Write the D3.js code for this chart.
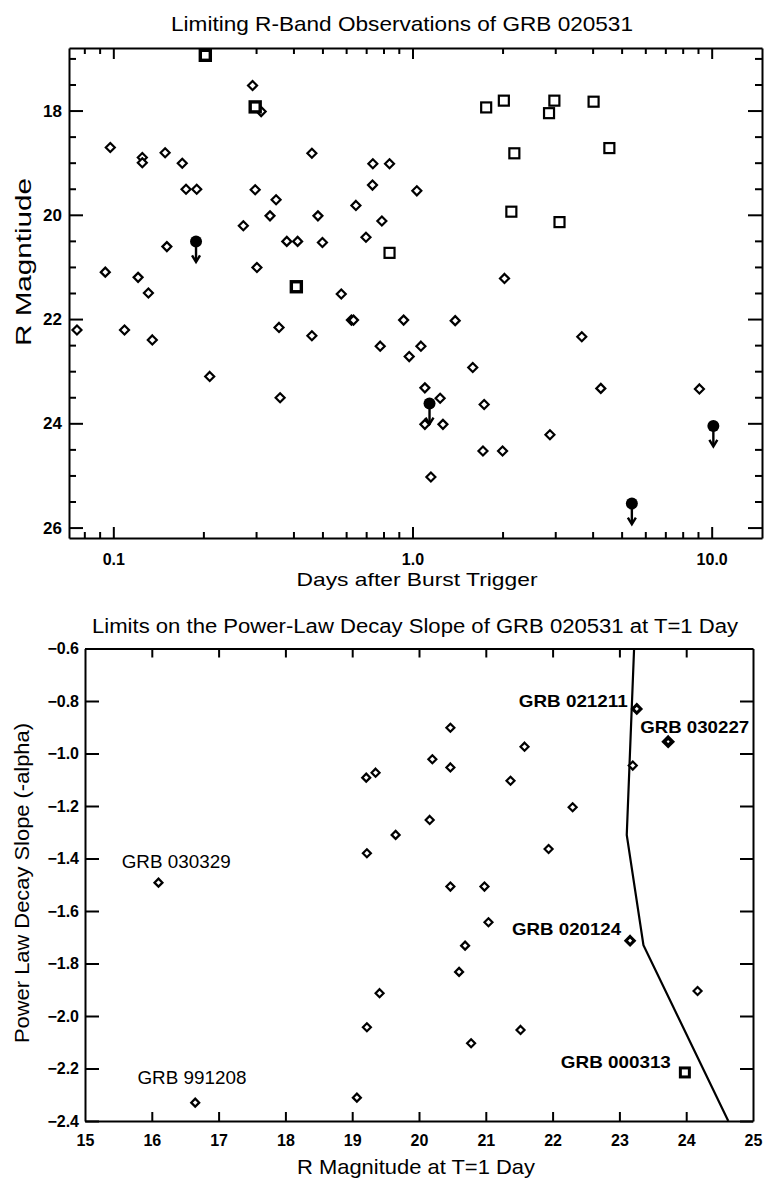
<!DOCTYPE html>
<html><head><meta charset="utf-8">
<script src="https://cdn.jsdelivr.net/npm/d3@7"></script>
<style>
body{margin:0;background:#fff}
svg{display:block}
text{font-family:"Liberation Sans",Arial,Helvetica,sans-serif;fill:#000}
</style>
</head><body>
<svg id="c" width="764" height="1179"></svg>
<script>
// ---------------- DATA ----------------
// Top panel: [days after trigger, R magnitude]
const obsDiamonds = [
  [0.0756,22.21],[0.0977,18.71],[0.094,21.1],[0.109,22.21],[0.121,21.2],[0.125,18.9],[0.125,19.0],
  [0.131,21.5],[0.135,22.4],[0.149,18.81],[0.151,20.61],[0.170,19.01],[0.175,19.51],[0.190,19.51],
  [0.210,23.1],[0.272,20.21],[0.292,17.52],[0.298,19.52],[0.302,21.01],[0.312,18.02],[0.334,20.02],
  [0.350,19.71],[0.358,22.16],[0.361,23.51],[0.380,20.51],[0.413,20.51],[0.461,18.82],[0.461,22.32],
  [0.483,20.02],[0.500,20.53],[0.578,21.52],[0.625,22.02],[0.635,22.02],[0.647,19.82],[0.699,20.43],
  [0.737,19.02],[0.735,19.43],[0.780,22.52],[0.790,20.12],[0.838,19.02],[0.934,22.02],[0.975,22.72],
  [1.034,19.54],[1.067,22.52],[1.10,23.32],[1.10,24.02],[1.152,25.03],[1.237,23.52],[1.264,24.02],
  [1.389,22.03],[1.59,22.93],[1.72,24.53],[1.736,23.64],[2.00,24.53],[2.03,21.22],[2.88,24.22],
  [3.68,22.34],[4.26,23.33],[9.10,23.34]
];
const obsSquares = [
  [1.763,17.94],[2.02,17.81],[2.98,17.81],[2.86,18.05],[4.03,17.83],[2.19,18.82],[4.55,18.72],
  [2.14,19.94],[3.10,20.14],[0.838,20.73]
];
const obsBoldSquares = [[0.203,16.94],[0.298,17.93],[0.409,21.38]];
const obsLimits = [[0.189,20.51],[1.14,23.62],[5.41,25.54],[10.13,24.05]];

const topXTicks = [0.1, 1, 10];
const topXTickLabels = ["0.1", "1.0", "10.0"];
const topYTicks = [18, 20, 22, 24, 26];

// Bottom panel: [R magnitude at T=1 day, power-law slope]
const grbDiamonds = [
  [16.10,-1.492],[16.65,-2.330],
  [19.21,-1.092],[19.35,-1.073],[19.22,-1.380],[19.65,-1.310],[20.47,-0.902],[21.58,-0.974],
  [20.20,-1.022],[20.47,-1.053],[21.37,-1.104],[22.30,-1.205],[20.16,-1.253],[21.94,-1.364],
  [20.47,-1.507],[20.98,-1.507],[21.04,-1.643],[20.69,-1.732],[20.60,-1.832],[19.41,-1.913],
  [19.22,-2.043],[19.07,-2.311],[24.17,-1.905],[21.52,-2.053],[20.78,-2.104],[23.20,-1.046]
];
const grbBoldNames = ["GRB 021211", "GRB 030227", "GRB 020124"];
const grbBoldMag = [23.26, 23.73, 23.16];
const grbBoldSlope = [-0.830, -0.955, -1.713];
const grbSquareName = ["GRB 000313"];
const grbSquareMag = [23.98];
const grbSquareSlope = [-2.215];
const grbPlainNames = ["GRB 030329", "GRB 991208"];
const grbPlainMag = [16.10, 16.65];
const grbPlainSlope = [-1.492, -2.330];
const limitLineMag = [23.22, 23.11, 23.36, 24.63];
const limitLineSlope = [-0.6, -1.31, -1.73, -2.4];

const botXTicks = [15,16,17,18,19,20,21,22,23,24,25];
const botYTicks = [-0.6,-0.8,-1.0,-1.2,-1.4,-1.6,-1.8,-2.0,-2.2,-2.4];

// ---------------- DRAWING ----------------
const svg = d3.select("#c");
const FONT = '"Liberation Sans",Arial,Helvetica,sans-serif';

function styleAxis(g, size, weight) {
  g.attr("font-family", FONT).attr("font-size", size).attr("font-weight", weight);
  g.selectAll("path.domain").attr("stroke", "#000").attr("stroke-width", 2);
  g.selectAll(".tick line").attr("stroke", "#000").attr("stroke-width", 2);
  g.selectAll("text").attr("fill", "#000");
}

// ===== Top panel =====
const tx = d3.scaleLog().domain([0.0711, 14.73]).range([69, 762]);
const ty = d3.scaleLinear().domain([16.8, 26.2]).range([48, 538]);

const topMinorX = [];
[0.01, 0.1, 1, 10].forEach(d => { for (let k = 2; k <= 9; k++) { const v = d * k; if (v > 0.0711 && v < 14.73 && topXTicks.indexOf(v) < 0) topMinorX.push(v); } });
const topMinorY = d3.range(17, 26.01, 0.5).filter(v => topYTicks.indexOf(v) < 0);

const T = svg.append("g");
const tb = T.append("g").attr("transform", "translate(0,538)")
  .call(d3.axisBottom(tx).tickValues(topXTicks).tickFormat((d, i) => topXTickLabels[i]).tickSize(-11).tickSizeOuter(0).tickPadding(16));
styleAxis(tb, 16, "bold");
T.append("g").attr("transform", "translate(0,538)")
  .call(d3.axisBottom(tx).tickValues(topMinorX).tickFormat("").tickSize(-6).tickSizeOuter(0))
  .call(g => { g.select(".domain").remove(); styleAxis(g, 10, "normal"); });
const tt = T.append("g").attr("transform", "translate(0,48)")
  .call(d3.axisTop(tx).tickValues(topXTicks).tickFormat("").tickSize(-11).tickSizeOuter(0));
styleAxis(tt, 10, "normal");
T.append("g").attr("transform", "translate(0,48)")
  .call(d3.axisTop(tx).tickValues(topMinorX).tickFormat("").tickSize(-6).tickSizeOuter(0))
  .call(g => { g.select(".domain").remove(); styleAxis(g, 10, "normal"); });
const tl = T.append("g").attr("transform", "translate(69,0)")
  .call(d3.axisLeft(ty).tickValues(topYTicks).tickFormat(d3.format("d")).tickSize(-14).tickSizeOuter(0).tickPadding(7));
styleAxis(tl, 17, "bold");
T.append("g").attr("transform", "translate(69,0)")
  .call(d3.axisLeft(ty).tickValues(topMinorY).tickFormat("").tickSize(-7).tickSizeOuter(0))
  .call(g => { g.select(".domain").remove(); styleAxis(g, 10, "normal"); });
const tr = T.append("g").attr("transform", "translate(762,0)")
  .call(d3.axisRight(ty).tickValues(topYTicks).tickFormat("").tickSize(-14).tickSizeOuter(0));
styleAxis(tr, 10, "normal");
T.append("g").attr("transform", "translate(762,0)")
  .call(d3.axisRight(ty).tickValues(topMinorY).tickFormat("").tickSize(-7).tickSizeOuter(0))
  .call(g => { g.select(".domain").remove(); styleAxis(g, 10, "normal"); });

const diamond = r => `M0,${-r}L${r},0L0,${r}L${-r},0Z`;

T.append("g").selectAll("path").data(obsDiamonds).join("path")
  .attr("d", diamond(4.5)).attr("transform", d => `translate(${tx(d[0])},${ty(d[1])})`)
  .attr("fill", "#fff").attr("stroke", "#000").attr("stroke-width", 2.2);
T.append("g").selectAll("rect").data(obsSquares).join("rect")
  .attr("x", d => tx(d[0]) - 5).attr("y", d => ty(d[1]) - 5).attr("width", 10).attr("height", 10)
  .attr("fill", "#fff").attr("stroke", "#000").attr("stroke-width", 2.2);
T.append("g").selectAll("rect").data(obsBoldSquares).join("rect")
  .attr("x", d => tx(d[0]) - 5).attr("y", d => ty(d[1]) - 5).attr("width", 10).attr("height", 10)
  .attr("fill", "#fff").attr("stroke", "#000").attr("stroke-width", 3.4);
const lim = T.append("g").selectAll("g").data(obsLimits).join("g")
  .attr("transform", d => `translate(${tx(d[0])},${ty(d[1])})`);
lim.append("line").attr("x1", 0).attr("x2", 0).attr("y1", 0).attr("y2", 20).attr("stroke", "#000").attr("stroke-width", 2.4);
lim.append("path").attr("d", "M-4,14L0,20.5L4,14").attr("fill", "none").attr("stroke", "#000").attr("stroke-width", 2.4);
lim.append("circle").attr("r", 6).attr("fill", "#000");

T.append("text").attr("x", 402).attr("y", 31).attr("text-anchor", "middle").attr("font-size", 21)
  .attr("textLength", 462).attr("lengthAdjust", "spacingAndGlyphs").text("Limiting R-Band Observations of GRB 020531");
T.append("text").attr("x", 417).attr("y", 586).attr("text-anchor", "middle").attr("font-size", 19)
  .attr("textLength", 241).attr("lengthAdjust", "spacingAndGlyphs").text("Days after Burst Trigger");
T.append("text").attr("transform", "translate(31,262) rotate(-90)").attr("text-anchor", "middle").attr("font-size", 22)
  .attr("textLength", 168).attr("lengthAdjust", "spacingAndGlyphs").text("R Magntiude");

// ===== Bottom panel =====
const bx = d3.scaleLinear().domain([15, 25]).range([85, 753]);
const by = d3.scaleLinear().domain([-0.6, -2.4]).range([648.5, 1121]);
const B = svg.append("g");
const innerX = botXTicks.slice(1, -1);
const bb = B.append("g").attr("transform", "translate(0,1121)")
  .call(d3.axisBottom(bx).tickValues(botXTicks).tickFormat(d3.format("d")).tickSize(-9).tickSizeOuter(0).tickPadding(14));
styleAxis(bb, 16, "bold");
bb.selectAll(".tick").filter(d => d === 15 || d === 25).select("line").remove();
const bt = B.append("g").attr("transform", "translate(0,648.5)")
  .call(d3.axisTop(bx).tickValues(innerX).tickFormat("").tickSize(-9).tickSizeOuter(0));
styleAxis(bt, 10, "normal");
const bl = B.append("g").attr("transform", "translate(85,0)")
  .call(d3.axisLeft(by).tickValues(botYTicks).tickFormat(d3.format(".1f")).tickSize(-14).tickSizeOuter(0).tickPadding(6));
styleAxis(bl, 16, "bold");
const br = B.append("g").attr("transform", "translate(753,0)")
  .call(d3.axisRight(by).tickValues(botYTicks).tickFormat("").tickSize(-13).tickSizeOuter(0));
styleAxis(br, 10, "normal");

const line = d3.line().x(d => bx(d[0])).y(d => by(d[1]));
B.append("path").datum(limitLineMag.map((m, i) => [m, limitLineSlope[i]]))
  .attr("d", line).attr("fill", "none").attr("stroke", "#000").attr("stroke-width", 2.2);

B.append("g").selectAll("path").data(grbDiamonds).join("path")
  .attr("d", diamond(4)).attr("transform", d => `translate(${bx(d[0])},${by(d[1])})`)
  .attr("fill", "#fff").attr("stroke", "#000").attr("stroke-width", 2.2);
B.append("g").selectAll("path").data(grbBoldMag.map((m, i) => [m, grbBoldSlope[i]])).join("path")
  .attr("d", diamond(4.2)).attr("transform", d => `translate(${bx(d[0])},${by(d[1])})`)
  .attr("fill", "#fff").attr("stroke", "#000").attr("stroke-width", (d, i) => i === 1 ? 3.8 : 3);
B.append("g").selectAll("rect").data(grbSquareMag.map((m, i) => [m, grbSquareSlope[i]])).join("rect")
  .attr("x", d => bx(d[0]) - 4.5).attr("y", d => by(d[1]) - 4.5).attr("width", 9).attr("height", 9)
  .attr("fill", "#fff").attr("stroke", "#000").attr("stroke-width", 3);

const boldOff = [[-9, -2.3, "end"], [-28, -9, "start"], [-9, -5.7, "end"]];
B.append("g").selectAll("text").data(grbBoldNames).join("text")
  .attr("x", (d, i) => bx(grbBoldMag[i]) + boldOff[i][0]).attr("y", (d, i) => by(grbBoldSlope[i]) + boldOff[i][1])
  .attr("text-anchor", (d, i) => boldOff[i][2]).attr("font-size", 17).attr("font-weight", "bold")
  .attr("textLength", 109).attr("lengthAdjust", "spacingAndGlyphs").text(d => d);
B.append("g").selectAll("text").data(grbSquareName).join("text")
  .attr("x", (d, i) => bx(grbSquareMag[i]) - 14).attr("y", (d, i) => by(grbSquareSlope[i]) - 4)
  .attr("text-anchor", "end").attr("font-size", 17).attr("font-weight", "bold")
  .attr("textLength", 110).attr("lengthAdjust", "spacingAndGlyphs").text(d => d);
const plainOff = [[17.7, -14.4], [-3.3, -18.7]];
B.append("g").selectAll("text").data(grbPlainNames).join("text")
  .attr("x", (d, i) => bx(grbPlainMag[i]) + plainOff[i][0]).attr("y", (d, i) => by(grbPlainSlope[i]) + plainOff[i][1])
  .attr("text-anchor", "middle").attr("font-size", 18.5)
  .attr("textLength", 109).attr("lengthAdjust", "spacingAndGlyphs").text(d => d);

B.append("text").attr("x", 415).attr("y", 633).attr("text-anchor", "middle").attr("font-size", 20)
  .attr("textLength", 646).attr("lengthAdjust", "spacingAndGlyphs").text("Limits on the Power-Law Decay Slope of GRB 020531 at T=1 Day");
B.append("text").attr("x", 416).attr("y", 1174).attr("text-anchor", "middle").attr("font-size", 21)
  .attr("textLength", 238).attr("lengthAdjust", "spacingAndGlyphs").text("R Magnitude at T=1 Day");
B.append("text").attr("transform", "translate(29,883) rotate(-90)").attr("text-anchor", "middle").attr("font-size", 21)
  .attr("textLength", 320).attr("lengthAdjust", "spacingAndGlyphs").text("Power Law Decay Slope (-alpha)");
</script>
</body></html>
